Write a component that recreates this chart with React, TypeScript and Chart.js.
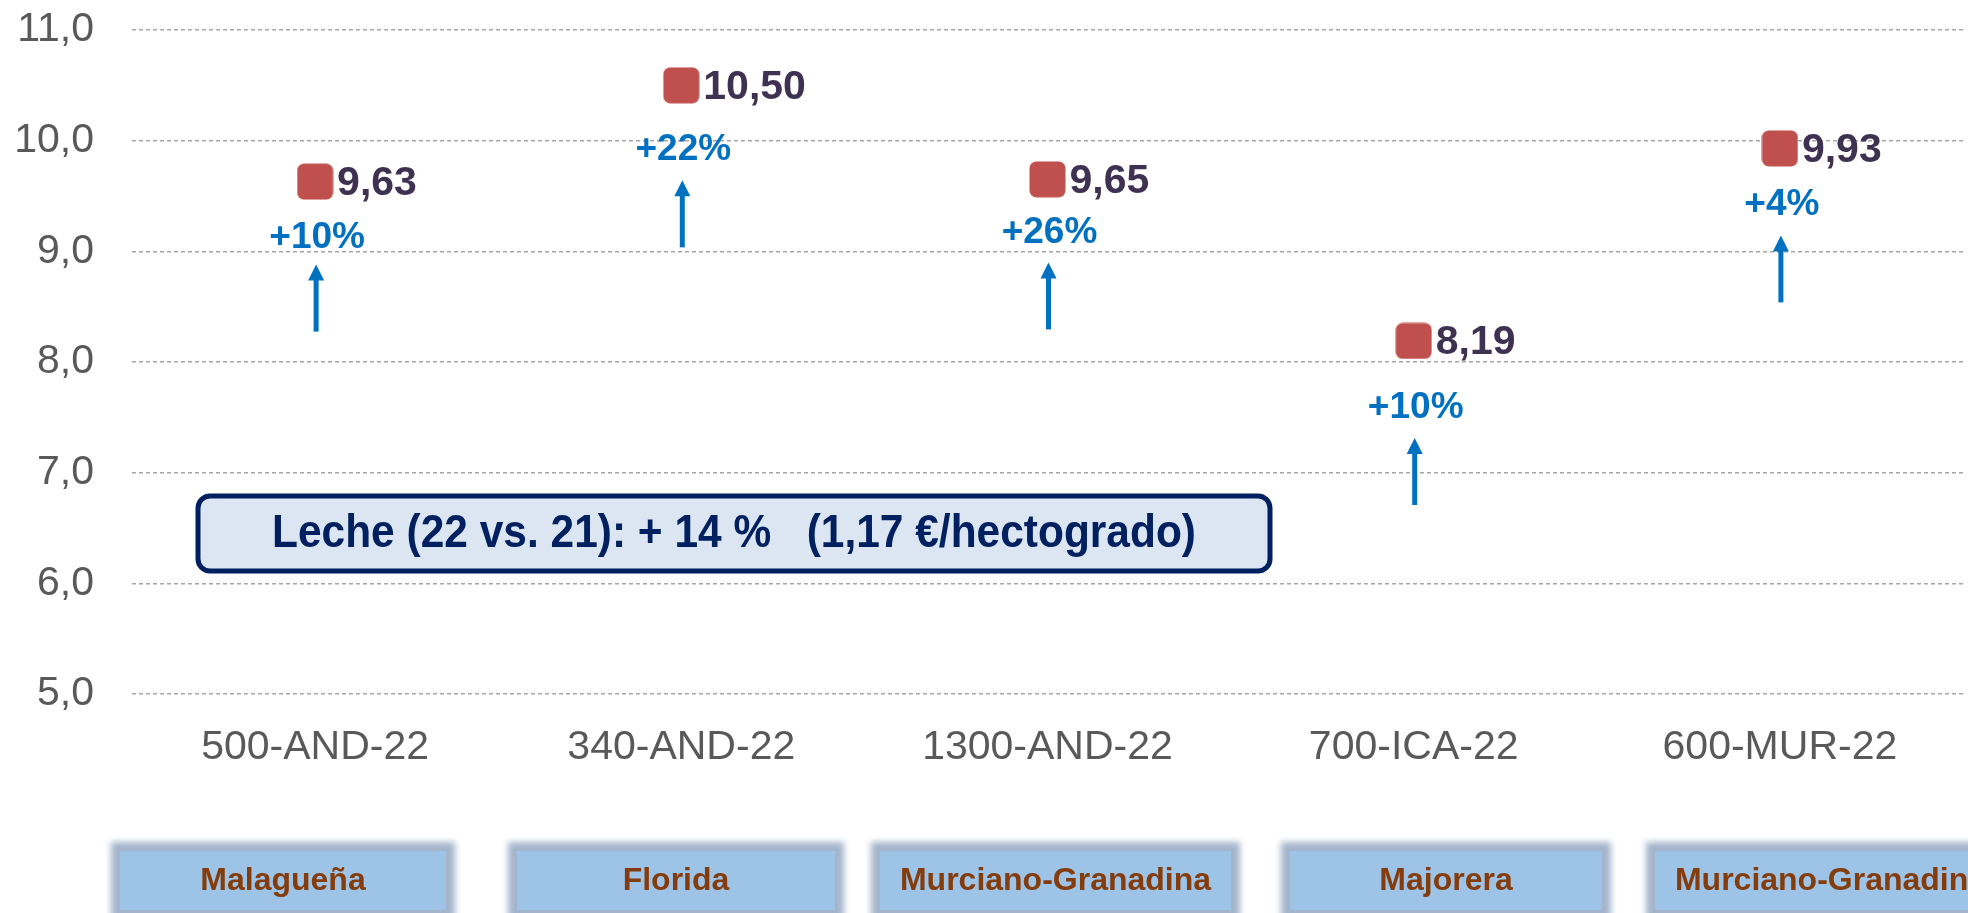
import React, { useEffect, useRef } from "react";
import { Chart, registerables } from "chart.js";

Chart.register(...registerables);

// ---------- data ----------
const categories = ["500-AND-22", "340-AND-22", "1300-AND-22", "700-ICA-22", "600-MUR-22"];
const values = [9.63, 10.5, 9.65, 8.19, 9.93];
const valueLabels = ["9,63", "10,50", "9,65", "8,19", "9,93"];
const changeLabels = ["+10%", "+22%", "+26%", "+10%", "+4%"];
const breeds = ["Malagueña", "Florida", "Murciano-Granadina", "Majorera", "Murciano-Granadina"];
const yTickValues = [5, 6, 7, 8, 9, 10, 11];
const summaryText = "Leche (22 vs. 21): + 14 %   (1,17 €/hectogrado)";

// ---------- layout (pixels) ----------
const changeLabelOffset = [66, 75, 64, 77, 67];
const arrowTipOffset = [83, 95, 83, 97, 87];
const arrowLength = 67;
const breedBoxX = [
  [120, 446],
  [517, 835],
  [880, 1231],
  [1290, 1602],
  [1655, 2006],
];
const summaryBox = { left: 198, top: 496, right: 1270, bottom: 571, textWidth: 924 };

const FONT = "'Liberation Sans', Arial, Helvetica, sans-serif";

function makeMarker(): HTMLCanvasElement {
  const c = document.createElement("canvas");
  c.width = 37;
  c.height = 37;
  const g = c.getContext("2d")!;
  g.fillStyle = "#C0504D";
  g.beginPath();
  (g as any).roundRect(0.5, 0.5, 36, 36, 7);
  g.fill();
  return c;
}

const annotations = {
  id: "annotations",
  afterDatasetsDraw(chart: any) {
    const ctx = chart.ctx as CanvasRenderingContext2D;
    const meta = chart.getDatasetMeta(0);
    meta.data.forEach((pt: any, i: number) => {
      const x = pt.x;
      const y = pt.y;
      ctx.save();
      // value label
      ctx.font = `bold 41px ${FONT}`;
      ctx.fillStyle = "#3F3151";
      ctx.textAlign = "left";
      ctx.textBaseline = "middle";
      ctx.fillText(valueLabels[i], x + 22, y + 2);
      // change label
      ctx.font = `bold 37px ${FONT}`;
      ctx.fillStyle = "#0070C0";
      ctx.textAlign = "center";
      ctx.textBaseline = "alphabetic";
      ctx.fillText(changeLabels[i], x + 2, y + changeLabelOffset[i]);
      // arrow
      const tip = y + arrowTipOffset[i];
      const bottom = tip + arrowLength;
      ctx.strokeStyle = "#0070C0";
      ctx.lineWidth = 5;
      ctx.beginPath();
      ctx.moveTo(x + 1, bottom);
      ctx.lineTo(x + 1, tip + 12);
      ctx.stroke();
      ctx.fillStyle = "#0070C0";
      ctx.beginPath();
      ctx.moveTo(x + 1, tip);
      ctx.lineTo(x + 1 - 8, tip + 16);
      ctx.lineTo(x + 1 + 8, tip + 16);
      ctx.closePath();
      ctx.fill();
      ctx.restore();
    });
  },
  afterDraw(chart: any) {
    const ctx = chart.ctx as CanvasRenderingContext2D;
    // summary box
    ctx.save();
    const b = summaryBox;
    ctx.beginPath();
    (ctx as any).roundRect(b.left, b.top, b.right - b.left, b.bottom - b.top, 12);
    ctx.fillStyle = "#DCE6F2";
    ctx.fill();
    ctx.lineWidth = 5;
    ctx.strokeStyle = "#002060";
    ctx.stroke();
    ctx.font = `bold 46px ${FONT}`;
    const w = ctx.measureText(summaryText).width;
    const sx = b.textWidth / w;
    ctx.translate((b.left + b.right) / 2, (b.top + b.bottom) / 2 + 1);
    ctx.scale(sx, 1);
    ctx.fillStyle = "#002060";
    ctx.textAlign = "center";
    ctx.textBaseline = "middle";
    ctx.fillText(summaryText, 0, 0);
    ctx.restore();

    // breed boxes
    const top = 851;
    const bot = 910;
    breeds.forEach((name, i) => {
      const [l, r] = breedBoxX[i];
      ctx.save();
      (ctx as any).filter = "blur(3px)";
      ctx.fillStyle = "#A3B4CB";
      ctx.fillRect(l - 9, top - 9, r - l + 18, bot - top + 20);
      ctx.restore();
      ctx.save();
      ctx.fillStyle = "#9DC3E6";
      ctx.fillRect(l, top, r - l, bot - top);
      ctx.font = `bold 32px ${FONT}`;
      ctx.fillStyle = "#843C0C";
      ctx.textAlign = "center";
      ctx.textBaseline = "middle";
      ctx.fillText(name, (l + r) / 2, 881);
      ctx.restore();
    });
  },
};

export default function App() {
  const ref = useRef<HTMLCanvasElement>(null);
  useEffect(() => {
    const canvas = ref.current!;
    const marker = makeMarker();
    const chart = new Chart(canvas, {
      type: "line",
      data: {
        labels: categories,
        datasets: [
          {
            data: values,
            showLine: false,
            pointStyle: marker as any,
            pointRadius: 18,
            pointHoverRadius: 18,
            backgroundColor: "#C0504D",
            borderColor: "#C0504D",
          },
        ],
      },
      options: {
        animation: false,
        responsive: false,
        maintainAspectRatio: false,
        events: [],
        layout: { padding: { top: 30, right: 0, bottom: 0, left: 0 } },
        plugins: { legend: { display: false }, tooltip: { enabled: false } },
        scales: {
          x: {
            offset: true,
            grid: { display: false, drawTicks: false, tickLength: 0 },
            border: { display: false },
            ticks: {
              color: "#595959",
              font: { size: 41, family: FONT },
              padding: 29,
              maxRotation: 0,
              autoSkip: false,
            },
            afterFit: (s: any) => {
              s.height = 219;
              s.paddingLeft = 0;
              s.paddingRight = 0;
            },
          },
          y: {
            min: 5,
            max: 11,
            grid: { color: "#A6A6A6", lineWidth: 1.5, drawTicks: false, tickLength: 0 },
            border: { display: false, dash: [4, 3] },
            afterBuildTicks: (s: any) => {
              s.ticks = yTickValues.map((v) => ({ value: v }));
            },
            ticks: {
              color: "#595959",
              font: { size: 41, family: FONT },
              padding: 38,
              callback: (v: any) => Number(v).toFixed(1).replace(".", ","),
            },
            afterFit: (s: any) => {
              s.width = 132;
              s.paddingTop = 0;
              s.paddingBottom = 0;
            },
          },
        },
      },
      plugins: [annotations],
    });
    return () => chart.destroy();
  }, []);

  return (
    <div
      style={{
        position: "fixed",
        left: 0,
        top: 0,
        width: 1968,
        height: 913,
        overflow: "hidden",
        background: "#ffffff",
      }}
    >
      <canvas ref={ref} width={1982} height={913} style={{ width: 1982, height: 913, display: "block" }} />
    </div>
  );
}
